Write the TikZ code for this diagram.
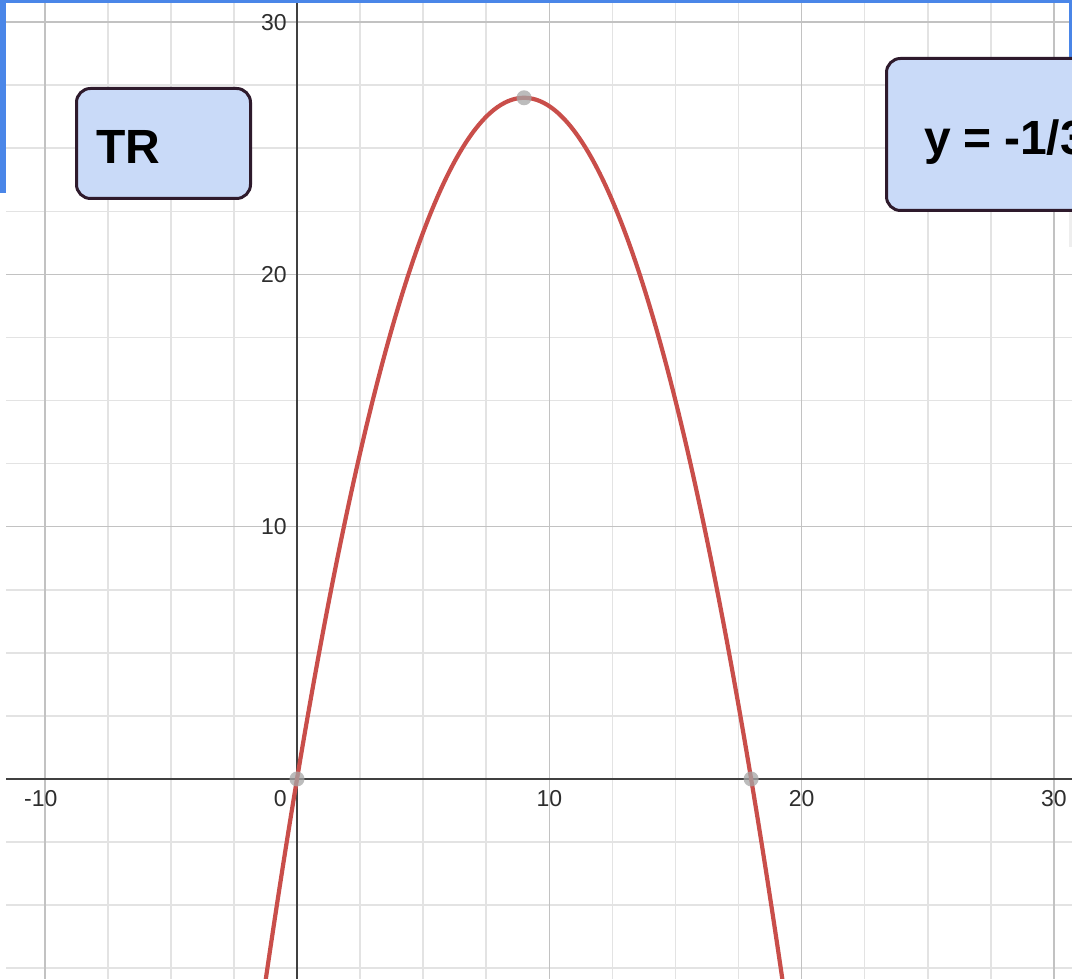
\documentclass[tikz,border=0pt]{standalone}
\usepackage{fontspec}
\setmainfont{Liberation Sans}
\definecolor{desred}{HTML}{C94E4A}
\definecolor{gblue}{HTML}{4A86E8}
\definecolor{boxfill}{HTML}{C9DAF8}
\definecolor{boxline}{HTML}{2E1A2C}
\definecolor{minorgrid}{HTML}{E3E3E3}
\definecolor{majorgrid}{HTML}{C2C2C2}
\definecolor{axiscol}{HTML}{404040}
\definecolor{labelcol}{HTML}{2E2E2E}
\definecolor{edgegray}{HTML}{EEEEEE}
\begin{document}
\begin{tikzpicture}[x=1pt,y=1pt,
  infobox/.style={draw=boxline, line width=3pt, fill=boxfill, rounded corners=14pt,
    font=\fontsize{48}{54}\selectfont\bfseries, align=left, text height=41pt, text depth=0pt,
    anchor=north west},
  ticklabel/.style={font=\fontsize{23}{25}\selectfont, text=labelcol, inner sep=0pt},
  keypoint/.style={circle, fill=gray!70, fill opacity=0.75, minimum size=15pt, inner sep=0pt},
  minorline/.style={draw=minorgrid, line width=1.6pt},
  majorline/.style={draw=majorgrid, line width=1.6pt},
  axisline/.style={draw=axiscol, line width=2pt},
  curveline/.style={draw=desred, line width=4.2pt},
  frameblue/.style={fill=gblue}]
\useasboundingbox (0,0) rectangle (1072,979);
\clip (0,0) rectangle (1072,979);
\fill[white] (0,0) rectangle (1072,979);
\begin{scope}
  \clip (6,0) rectangle (1072,979);
  \begin{scope}[shift={(297,200)}, x=25.23pt, y=25.23pt]
    \foreach \u in {-10,-7.5,...,30} \draw[minorline] (\u,-8) -- (\u,31);
    \foreach \v in {-7.5,-5,...,30} \draw[minorline] (-12,\v) -- (31,\v);
    \foreach \u in {-10,10,20,30} \draw[majorline] (\u,-8) -- (\u,31);
    \foreach \v in {10,20,30} \draw[majorline] (-12,\v) -- (31,\v);
    \coordinate (xl) at (-12,0);
    \coordinate (xr) at (31,0);
    \coordinate (yb) at (0,-8);
    \coordinate (yt) at (0,31);
    \draw[axisline] (xl) -- (xr);
    \draw[axisline] (yb) -- (yt);
    \draw[curveline] plot[domain=-1.4:19.4, samples=150, smooth] (\x, {-(\x-9)^2/3+27});
    \node[keypoint] (p0) at (0,0) {};
    \node[keypoint] (pv) at (9,27) {};
    \node[keypoint] (p18) at (18,0) {};
    \node[ticklabel, anchor=east] (ly10) at (-0.4,10) {10};
    \node[ticklabel, anchor=east] (ly20) at (-0.4,20) {20};
    \node[ticklabel, anchor=east] (ly30) at (-0.4,30) {30};
    \node[ticklabel] (lxm10) at (-10,-0.76) {\llap{-}10};
    \node[ticklabel, anchor=east] (lx0) at (-0.4,-0.76) {0};
    \node[ticklabel] (lx10) at (10,-0.76) {10};
    \node[ticklabel] (lx20) at (20,-0.76) {20};
    \node[ticklabel] (lx30) at (30,-0.76) {30};
  \end{scope}
\end{scope}
% blue frame pieces
\fill[frameblue] (0,976) rectangle (1072,979);
\fill[frameblue] (0,786) rectangle (6,979);
\fill[frameblue] (1069,922) rectangle (1072,979);
\fill[edgegray] (1069,732) rectangle (1072,770);
% boxes
\node[infobox, minimum height=110pt, inner xsep=20pt, text width=134pt] (tr) at (75,892) {TR};
\node[infobox, minimum height=152pt, inner xsep=38pt, text width=260pt] (eq) at (885,922) {y\hspace{0.26em}=\hspace{0.26em}-1/3};
\end{tikzpicture}
\end{document}
